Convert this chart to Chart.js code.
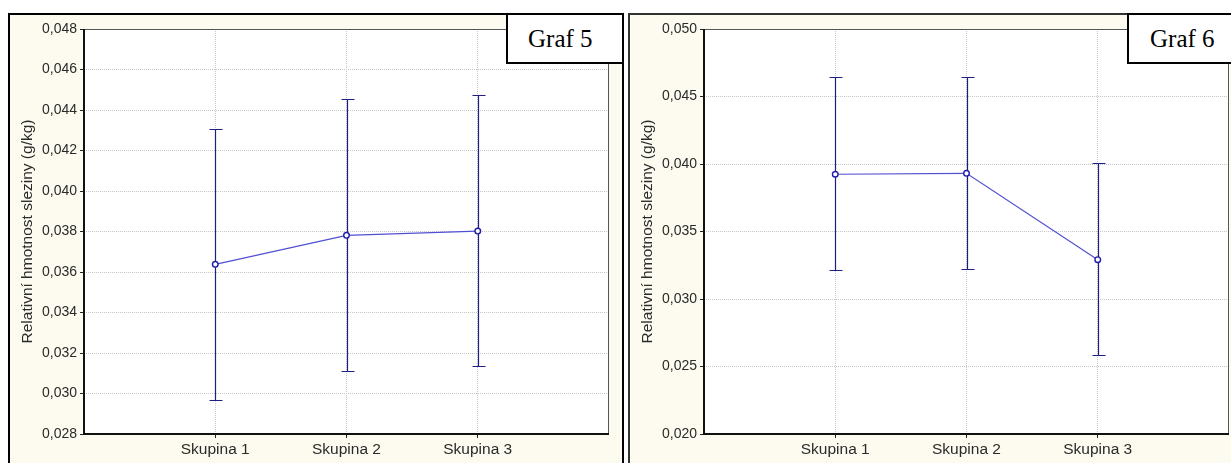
<!DOCTYPE html>
<html>
<head>
<meta charset="utf-8">
<script src="https://cdn.jsdelivr.net/npm/chart.js@4"></script>
<style>
  html, body { margin: 0; padding: 0; background: #fff; }
  body { width: 1231px; height: 463px; position: relative; overflow: hidden; }
  .panel { position: absolute; top: 13px; width: 616px; height: 470px; box-sizing: border-box;
           border: 2px solid #000; background: #fdfaef; }
  .panel canvas { position: absolute; left: 0; top: 0; }
  .graf { position: absolute; top: 13px; height: 51px; box-sizing: border-box; background: #fff;
          border: 2px solid #000; font-family: "Liberation Serif", "Times New Roman", serif;
          font-size: 25px; line-height: 47px; padding-left: 20px; color: #000; }
</style>
</head>
<body>
<div class="panel" style="left:8px;"><canvas id="c5" width="612" height="448"></canvas></div>
<div class="panel" style="left:628px; border-color:#333;"><canvas id="c6" width="612" height="448"></canvas></div>
<div class="graf" style="left:506px; width:118px;">Graf 5</div>
<div class="graf" style="left:1127px; width:120px; padding-left:21px;">Graf 6</div>
<script>
// skupiny na ose x
const groups = ['Skupina 1', 'Skupina 2', 'Skupina 3'];
const yTitle = 'Relativní hmotnost sleziny (g/kg)';

// Graf 5 - prumer a meze
const graf5Mean = [0.03638, 0.03781, 0.03802];
const graf5Low = [0.02966, 0.03111, 0.03134];
const graf5High = [0.04308, 0.04456, 0.04474];
const graf5Ticks = [0.028, 0.030, 0.032, 0.034, 0.036, 0.038, 0.040, 0.042, 0.044, 0.046, 0.048];

// Graf 6
const graf6Mean = [0.03924, 0.03931, 0.03291];
const graf6Low = [0.03215, 0.03222, 0.02583];
const graf6High = [0.04642, 0.04647, 0.04005];
const graf6Ticks = [0.020, 0.025, 0.030, 0.035, 0.040, 0.045, 0.050];

const barColor = '#1e1e82';
const lineColor = '#5050d2';
const font = 'Liberation Sans';

// bila plocha grafu + ramecek
const plotBox = {
    id: 'plotBox',
    beforeDraw(chart) {
        const a = chart.chartArea, ctx = chart.ctx;
        ctx.save();
        ctx.fillStyle = '#fff';
        ctx.fillRect(a.left, a.top, a.right - a.left, a.bottom - a.top);
        ctx.restore();
    },
    afterDraw(chart) {
        const a = chart.chartArea, ctx = chart.ctx;
        ctx.save();
        ctx.strokeStyle = '#555';
        ctx.lineWidth = 1;
        ctx.strokeRect(a.left + 0.5, a.top + 0.5, a.right - a.left - 1, a.bottom - a.top - 1);
        ctx.strokeStyle = '#111';
        ctx.lineWidth = 2;
        ctx.beginPath();
        ctx.moveTo(a.left, a.top);
        ctx.lineTo(a.left, a.bottom);
        ctx.lineTo(a.right, a.bottom);
        ctx.stroke();
        ctx.restore();
    }
};

// chybove usecky
const errorBars = {
    id: 'errorBars',
    beforeDatasetsDraw(chart) {
        const ctx = chart.ctx;
        const xs = chart.scales.x, ys = chart.scales.y;
        const lo = chart.options.plugins.errorBars.low;
        const hi = chart.options.plugins.errorBars.high;
        ctx.save();
        ctx.strokeStyle = barColor;
        ctx.lineWidth = 1.2;
        lo.forEach((v, i) => {
            const x = Math.round(xs.getPixelForValue(i + 1)) + 0.5;
            const y1 = Math.round(ys.getPixelForValue(v)) + 0.5;
            const y2 = Math.round(ys.getPixelForValue(hi[i])) + 0.5;
            ctx.beginPath();
            ctx.moveTo(x, y1); ctx.lineTo(x, y2);
            ctx.moveTo(x - 6, y1); ctx.lineTo(x + 7, y1);
            ctx.moveTo(x - 6, y2); ctx.lineTo(x + 7, y2);
            ctx.stroke();
        });
        ctx.restore();
    }
};

function makePanel(id, means, low, high, ticks) {
    const pts = means.map((m, i) => ({ x: i + 1, y: m }));
    new Chart(document.getElementById(id), {
        type: 'line',
        data: {
            datasets: [{
                data: pts,
                borderColor: lineColor,
                borderWidth: 1.2,
                pointRadius: 2.8,
                pointBorderWidth: 1.4,
                pointBorderColor: '#1e1eaa',
                pointBackgroundColor: '#fff',
                tension: 0
            }]
        },
        options: {
            responsive: false,
            animation: false,
            events: [],
            layout: { padding: { top: 14, right: 13, left: 0, bottom: 0 } },
            plugins: {
                legend: { display: false },
                tooltip: { enabled: false },
                errorBars: { low: low, high: high }
            },
            scales: {
                x: {
                    type: 'linear', min: 0, max: 4,
                    afterBuildTicks: s => { s.ticks = groups.map((g, i) => ({ value: i + 1 })); },
                    afterFit: s => { s.height = 29; },
                    ticks: {
                        callback: v => groups[v - 1],
                        color: '#2a2a2a', padding: 2, maxRotation: 0,
                        font: { family: font, size: 15.5 }
                    },
                    grid: { color: '#c6c6c6', tickColor: '#222', tickLength: 4 },
                    border: { display: false, dash: [1, 1] }
                },
                y: {
                    min: ticks[0], max: ticks[ticks.length - 1],
                    afterBuildTicks: s => { s.ticks = ticks.map(v => ({ value: v })); },
                    afterFit: s => { s.width = 74; },
                    ticks: {
                        callback: v => v.toFixed(3).replace('.', ','),
                        color: '#2a2a2a', padding: 3,
                        font: { family: font, size: 14 }
                    },
                    title: {
                        display: true, text: yTitle, color: '#2a2a2a',
                        padding: { top: 8, bottom: 0 },
                        font: { family: font, size: 15.5 }
                    },
                    grid: { color: '#c6c6c6', tickColor: '#222', tickLength: 4 },
                    border: { display: false, dash: [1, 1] }
                }
            }
        },
        plugins: [plotBox, errorBars]
    });
}

makePanel('c5', graf5Mean, graf5Low, graf5High, graf5Ticks);
makePanel('c6', graf6Mean, graf6Low, graf6High, graf6Ticks);
</script>
</body>
</html>
